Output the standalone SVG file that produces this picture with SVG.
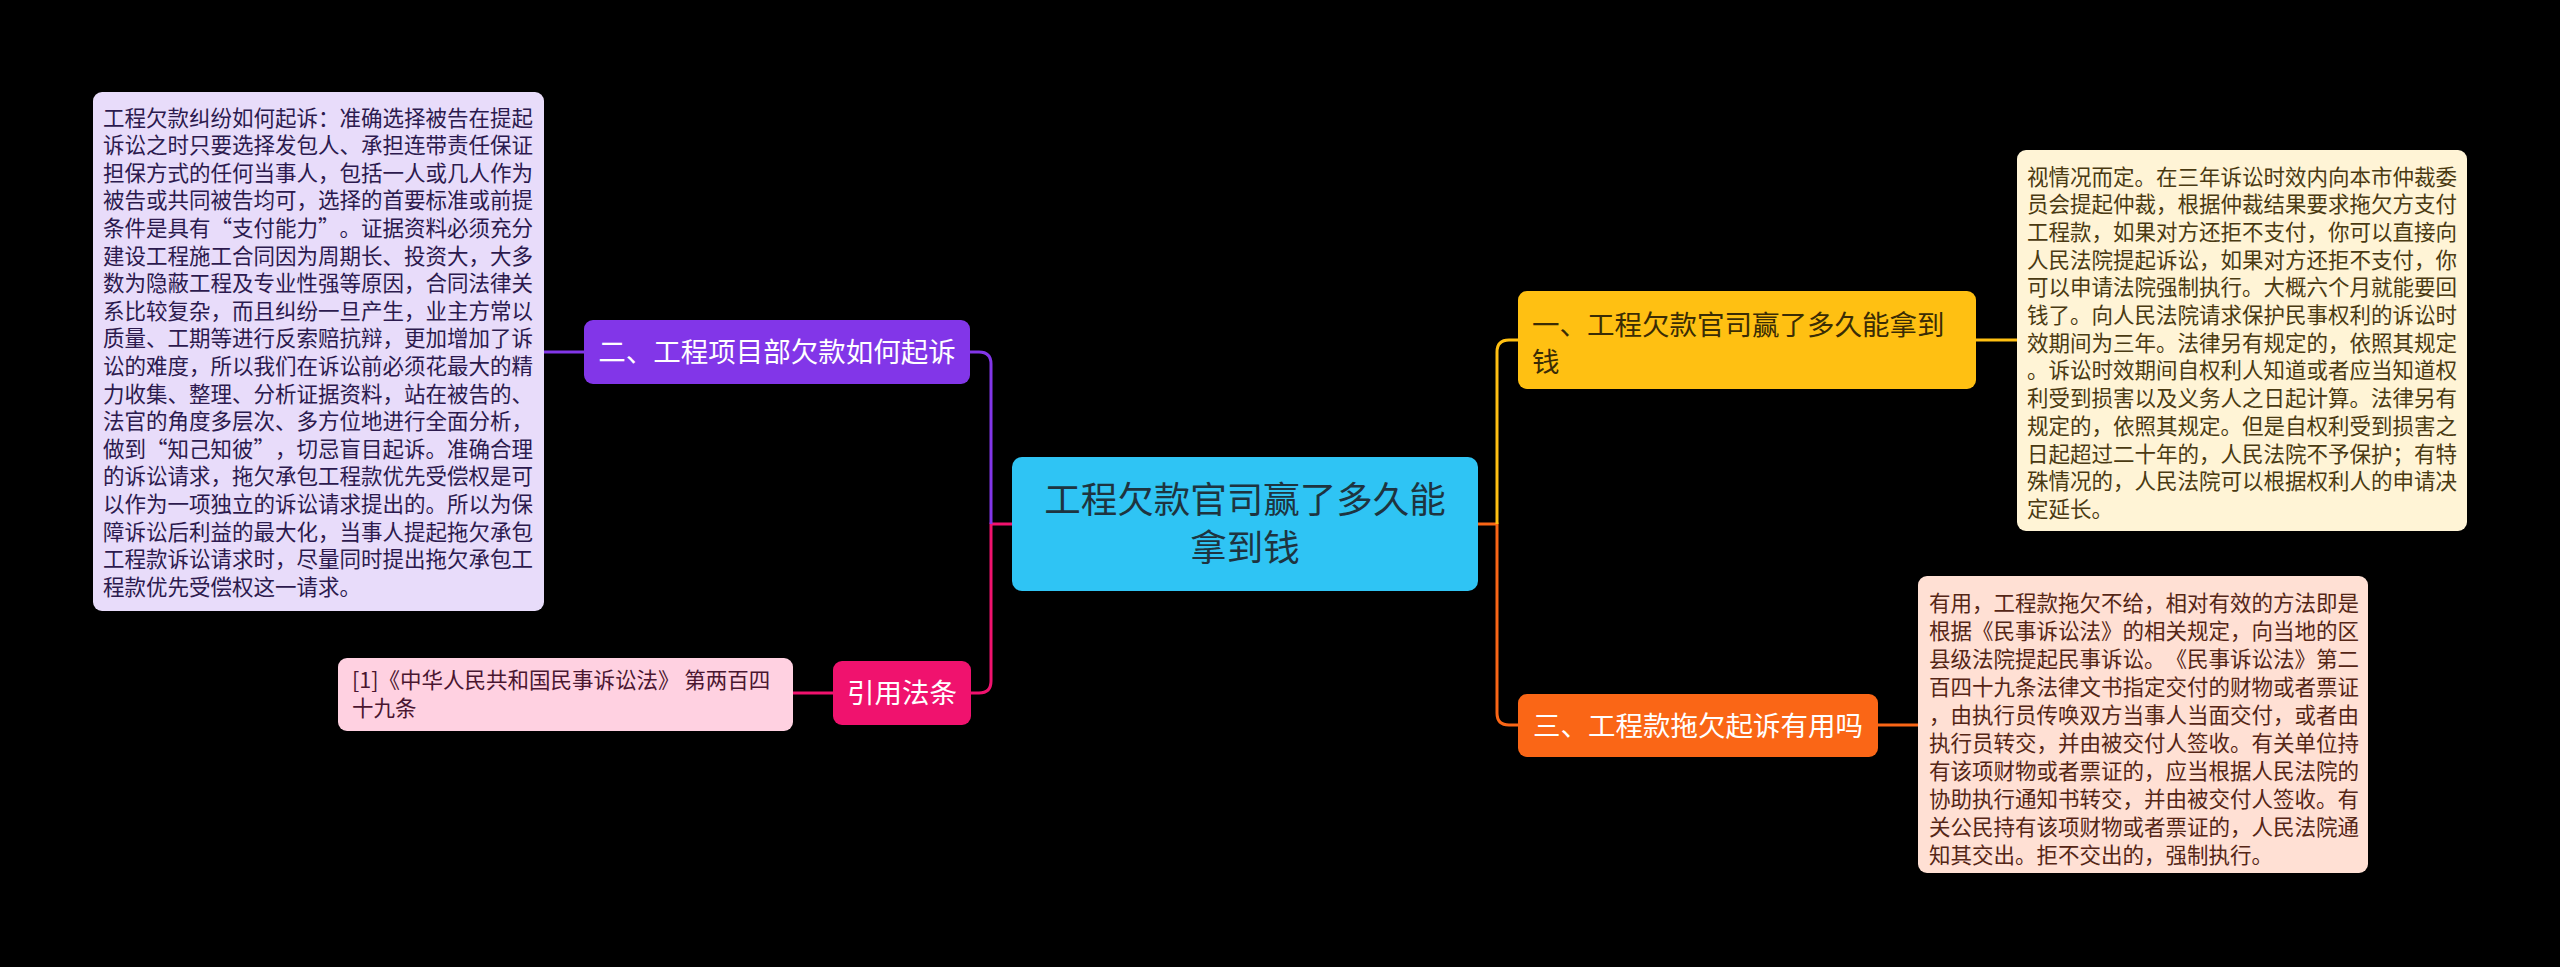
<svg xmlns="http://www.w3.org/2000/svg" width="2560" height="967" viewBox="0 0 2560 967" lang="zh-CN">
<style>
text{font-family:"Noto Sans CJK SC","Noto Sans",sans-serif;text-spacing-trim:space-all;}
.leaf{font-size:21.5px;}
.br{font-size:27.5px;}
.c{fill:none;stroke-width:3;}
</style>
<rect x="0" y="0" width="2560" height="967" fill="#000000"/>
<g id="connectors">
<path class="c" stroke="#F0126E" d="M1012,524 H991 V681 Q991,693 979,693 H971"/>
<path class="c" stroke="#8236E8" d="M991,524 V364 Q991,352 979,352 H970"/>
<path class="c" stroke="#8236E8" d="M584,352 H544"/>
<path class="c" stroke="#F0126E" d="M833,693 H793"/>
<path class="c" stroke="#FA6616" d="M1478,524 H1497 V713 Q1497,725 1509,725 H1518"/>
<path class="c" stroke="#FFC012" d="M1497,524 V352 Q1497,340 1509,340 H1518"/>
<path class="c" stroke="#FFC012" d="M1976,340 H2018"/>
<path class="c" stroke="#FA6616" d="M1878,725 H1918"/>
</g>
<g id="root">
<rect x="1012" y="457" width="466" height="134" rx="10" fill="#2FC4F4"/>
<text x="1245" y="513" font-size="36.5" text-anchor="middle" fill="#1E3440">工程欠款官司赢了多久能</text>
<text x="1245" y="561" font-size="36.5" text-anchor="middle" fill="#1E3440">拿到钱</text>
</g>
<g id="branch1">
<rect x="1518" y="291" width="458" height="98" rx="9" fill="#FFC012"/>
<text class="br" x="1532" y="335" fill="#3A2C05">一、工程欠款官司赢了多久能拿到</text>
<text class="br" x="1532" y="372" fill="#3A2C05">钱</text>
</g>
<g id="leaf1">
<rect x="2017" y="150" width="450" height="381" rx="9" fill="#FFF4D6"/>
<text class="leaf" fill="#4A3A12">
<tspan x="2027" y="184.5">视情况而定。在三年诉讼时效内向本市仲裁委</tspan>
<tspan x="2027" y="212.2">员会提起仲裁，根据仲裁结果要求拖欠方支付</tspan>
<tspan x="2027" y="239.9">工程款，如果对方还拒不支付，你可以直接向</tspan>
<tspan x="2027" y="267.6">人民法院提起诉讼，如果对方还拒不支付，你</tspan>
<tspan x="2027" y="295.3">可以申请法院强制执行。大概六个月就能要回</tspan>
<tspan x="2027" y="323">钱了。向人民法院请求保护民事权利的诉讼时</tspan>
<tspan x="2027" y="350.7">效期间为三年。法律另有规定的，依照其规定</tspan>
<tspan x="2027" y="378.4">。诉讼时效期间自权利人知道或者应当知道权</tspan>
<tspan x="2027" y="406.1">利受到损害以及义务人之日起计算。法律另有</tspan>
<tspan x="2027" y="433.8">规定的，依照其规定。但是自权利受到损害之</tspan>
<tspan x="2027" y="461.5">日起超过二十年的，人民法院不予保护；有特</tspan>
<tspan x="2027" y="489.2">殊情况的，人民法院可以根据权利人的申请决</tspan>
<tspan x="2027" y="516.9">定延长。</tspan>
</text>
</g>
<g id="branch3">
<rect x="1518" y="694" width="360" height="63" rx="9" fill="#FA6616"/>
<text class="br" x="1533" y="735.5" fill="#FFFFFF">三、工程款拖欠起诉有用吗</text>
</g>
<g id="leaf3">
<rect x="1918" y="576" width="450" height="297" rx="9" fill="#FFE0D4"/>
<text class="leaf" fill="#552616">
<tspan x="1929" y="610.5">有用，工程款拖欠不给，相对有效的方法即是</tspan>
<tspan x="1929" y="638.5">根据《民事诉讼法》的相关规定，向当地的区</tspan>
<tspan x="1929" y="666.5">县级法院提起民事诉讼。《民事诉讼法》第二</tspan>
<tspan x="1929" y="694.5">百四十九条法律文书指定交付的财物或者票证</tspan>
<tspan x="1929" y="722.5">，由执行员传唤双方当事人当面交付，或者由</tspan>
<tspan x="1929" y="750.5">执行员转交，并由被交付人签收。有关单位持</tspan>
<tspan x="1929" y="778.5">有该项财物或者票证的，应当根据人民法院的</tspan>
<tspan x="1929" y="806.5">协助执行通知书转交，并由被交付人签收。有</tspan>
<tspan x="1929" y="834.5">关公民持有该项财物或者票证的，人民法院通</tspan>
<tspan x="1929" y="862.5">知其交出。拒不交出的，强制执行。</tspan>
</text>
</g>
<g id="branch2">
<rect x="584" y="320" width="386" height="64" rx="9" fill="#8236E8"/>
<text class="br" x="777" y="362" text-anchor="middle" fill="#FFFFFF">二、工程项目部欠款如何起诉</text>
</g>
<g id="leaf2">
<rect x="93" y="92" width="451" height="519" rx="9" fill="#E8DCFA"/>
<text class="leaf" fill="#2C1A4E">
<tspan x="103" y="125.5">工程欠款纠纷如何起诉：准确选择被告在提起</tspan>
<tspan x="103" y="153.1">诉讼之时只要选择发包人、承担连带责任保证</tspan>
<tspan x="103" y="180.7">担保方式的任何当事人，包括一人或几人作为</tspan>
<tspan x="103" y="208.3">被告或共同被告均可，选择的首要标准或前提</tspan>
<tspan x="103" y="235.9">条件是具有“支付能力”。证据资料必须充分</tspan>
<tspan x="103" y="263.5">建设工程施工合同因为周期长、投资大，大多</tspan>
<tspan x="103" y="291.1">数为隐蔽工程及专业性强等原因，合同法律关</tspan>
<tspan x="103" y="318.7">系比较复杂，而且纠纷一旦产生，业主方常以</tspan>
<tspan x="103" y="346.3">质量、工期等进行反索赔抗辩，更加增加了诉</tspan>
<tspan x="103" y="373.9">讼的难度，所以我们在诉讼前必须花最大的精</tspan>
<tspan x="103" y="401.5">力收集、整理、分析证据资料，站在被告的、</tspan>
<tspan x="103" y="429.1">法官的角度多层次、多方位地进行全面分析，</tspan>
<tspan x="103" y="456.7">做到“知己知彼”，切忌盲目起诉。准确合理</tspan>
<tspan x="103" y="484.3">的诉讼请求，拖欠承包工程款优先受偿权是可</tspan>
<tspan x="103" y="511.9">以作为一项独立的诉讼请求提出的。所以为保</tspan>
<tspan x="103" y="539.5">障诉讼后利益的最大化，当事人提起拖欠承包</tspan>
<tspan x="103" y="567.1">工程款诉讼请求时，尽量同时提出拖欠承包工</tspan>
<tspan x="103" y="594.7">程款优先受偿权这一请求。</tspan>
</text>
</g>
<g id="branch4">
<rect x="833" y="661" width="138" height="64" rx="9" fill="#F0126E"/>
<text class="br" x="902" y="703" text-anchor="middle" fill="#FFFFFF">引用法条</text>
</g>
<g id="leaf4">
<rect x="338" y="658" width="455" height="73" rx="9" fill="#FFD1E1"/>
<text class="leaf" fill="#4A1630">
<tspan x="352" y="688">[1]《中华人民共和国民事诉讼法》 第两百四</tspan>
<tspan x="352" y="715.6">十九条</tspan>
</text>
</g>
</svg>
